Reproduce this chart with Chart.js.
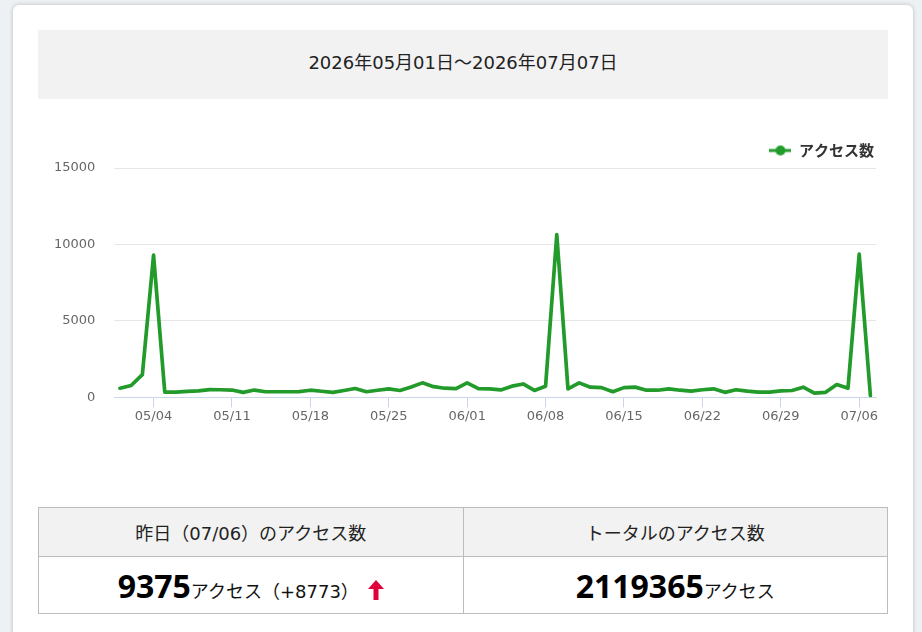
<!DOCTYPE html>
<html lang="ja">
<head>
<meta charset="utf-8">
<script src="https://cdn.jsdelivr.net/npm/chart.js@4.4.1/dist/chart.umd.min.js"></script>
<style>
html,body{margin:0;padding:0;}
body{width:922px;height:632px;overflow:hidden;background:#eef1f4;position:relative;font-family:"DejaVu Sans","Noto Sans CJK JP",sans-serif;}
#card{position:absolute;left:13px;top:5px;width:900px;height:700px;background:#fff;border-radius:6px;box-shadow:0 0 4px rgba(0,0,0,0.22);}
#period{position:absolute;left:38px;top:30px;width:850px;height:61px;padding-bottom:8px;background:#f2f2f2;display:flex;align-items:center;justify-content:center;font-size:18px;color:#222;}
#chartBox{position:absolute;left:35px;top:130px;width:853px;height:300px;}
#stats{position:absolute;left:38px;top:507px;width:850px;border-collapse:collapse;table-layout:fixed;}
#stats td,#stats th{border:1px solid #bcbcbc;text-align:center;width:50%;padding:0;}
#stats th{background:#f2f2f2;height:48px;font-weight:normal;font-size:18px;color:#222;}
#stats td{height:56px;font-size:18px;color:#111;}
.big{font-family:"Noto Sans",sans-serif;font-weight:bold;font-size:32px;color:#000;}
.arrow{display:inline-block;vertical-align:-2px;margin-left:9px;}
</style>
</head>
<body>
<div id="card"></div>
<div id="period"></div>
<div id="chartBox"><canvas id="chart"></canvas></div>
<table id="stats">
  <tr><th id="yHead"></th><th id="tHead"></th></tr>
  <tr>
    <td><span class="big" id="yVal"></span><span id="yUnit"></span><svg class="arrow" width="16" height="20" viewBox="0 0 16 20"><path d="M8 0 L16 9 L10.5 9 L10.5 20 L5.5 20 L5.5 9 L0 9 Z" fill="#e0003c"/></svg></td>
    <td><span class="big" id="tVal"></span><span id="tUnit"></span></td>
  </tr>
</table>
<script>
const periodText = '2026年05月01日～2026年07月07日';
const seriesName = 'アクセス数';
const dates = [
  '05/01','05/02','05/03','05/04','05/05','05/06','05/07','05/08','05/09','05/10',
  '05/11','05/12','05/13','05/14','05/15','05/16','05/17','05/18','05/19','05/20',
  '05/21','05/22','05/23','05/24','05/25','05/26','05/27','05/28','05/29','05/30','05/31',
  '06/01','06/02','06/03','06/04','06/05','06/06','06/07','06/08','06/09','06/10',
  '06/11','06/12','06/13','06/14','06/15','06/16','06/17','06/18','06/19','06/20',
  '06/21','06/22','06/23','06/24','06/25','06/26','06/27','06/28','06/29','06/30',
  '07/01','07/02','07/03','07/04','07/05','07/06','07/07'
];
const accessCounts = [
  600, 780, 1490, 9300, 350, 350, 400, 430, 510, 500,
  480, 330, 480, 370, 370, 370, 380, 470, 400, 330,
  450, 580, 370, 470, 560, 450, 680, 950, 700, 600, 580,
  950, 580, 560, 490, 735, 880, 455, 735, 10650, 560,
  950, 670, 640, 370, 640, 670, 470, 470, 560, 470,
  410, 500, 560, 330, 500, 410, 340, 340, 430, 450,
  670, 280, 330, 840, 602, 9375, 120
];
const xTickLabels = ['05/04','05/11','05/18','05/25','06/01','06/08','06/15','06/22','06/29','07/06'];
const yTickValues = [0, 5000, 10000, 15000];
const yesterdayLabel = '07/06';
const yesterdayCount = 9375;
const yesterdayDiff = 8773;
const totalCount = 2119365;

document.getElementById('period').textContent = periodText;
document.getElementById('yHead').textContent = '昨日（' + yesterdayLabel + '）のアクセス数';
document.getElementById('tHead').textContent = 'トータルのアクセス数';
document.getElementById('yVal').textContent = String(yesterdayCount);
document.getElementById('yUnit').textContent = 'アクセス（+' + yesterdayDiff + '）';
document.getElementById('tVal').textContent = String(totalCount);
document.getElementById('tUnit').textContent = 'アクセス';

const lineColor = '#229b2a';
const marker = document.createElement('canvas');
marker.width = 22; marker.height = 12;
const mctx = marker.getContext('2d');
mctx.strokeStyle = lineColor; mctx.lineWidth = 3;
mctx.beginPath(); mctx.moveTo(0, 6); mctx.lineTo(22, 6); mctx.stroke();
mctx.fillStyle = lineColor;
mctx.beginPath(); mctx.arc(11, 6, 5, 0, Math.PI * 2); mctx.fill();

new Chart(document.getElementById('chart'), {
  type: 'line',
  data: {
    labels: dates,
    datasets: [{
      label: seriesName,
      data: accessCounts,
      borderColor: lineColor,
      backgroundColor: lineColor,
      borderWidth: 3.7,
      pointRadius: 0,
      pointHoverRadius: 0,
      tension: 0,
      borderJoinStyle: 'round',
      borderCapStyle: 'round',
      fill: false
    }]
  },
  options: {
    responsive: true,
    maintainAspectRatio: false,
    animation: false,
    layout: { padding: { left: 0, right: 12, top: 11, bottom: 5 } },
    plugins: {
      legend: {
        position: 'top',
        align: 'end',
        labels: {
          usePointStyle: true,
          pointStyle: marker,
          pointStyleWidth: 22,
          boxHeight: 15,
          padding: 2,
          color: '#333',
          font: { family: '"Noto Sans CJK JP"', size: 15, weight: 'bold' }
        }
      },
      tooltip: { enabled: false }
    },
    scales: {
      x: {
        offset: true,
        border: { color: '#ccd6eb', width: 1 },
        grid: { drawOnChartArea: false, tickLength: 10, tickColor: '#ccd6eb' },
        ticks: {
          autoSkip: false,
          maxRotation: 0,
          padding: 1,
          color: '#666',
          font: { family: '"DejaVu Sans"', size: 13 },
          callback: function (v) {
            const l = this.getLabelForValue(v);
            return xTickLabels.includes(l) ? l : null;
          }
        }
      },
      y: {
        min: 0,
        max: 15000,
        afterBuildTicks: s => { s.ticks = yTickValues.map(v => ({ value: v })); },
        border: { display: false },
        grid: { color: '#e6e6e6', drawTicks: false },
        ticks: {
          padding: 19,
          color: '#666',
          font: { family: '"DejaVu Sans"', size: 13 },
          callback: v => String(v)
        }
      }
    }
  }
});
</script>
</body>
</html>
